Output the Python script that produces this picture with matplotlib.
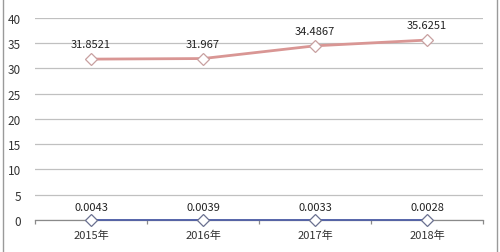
import numpy as np
import matplotlib.pyplot as plt
from matplotlib.lines import Line2D

plt.rcParams['font.family'] = ['Noto Sans CJK SC', 'DejaVu Sans']

years = ["2015年", "2016年", "2017年", "2018年"]
series_a = [31.8521, 31.967, 34.4867, 35.6251]
series_b = [0.0043, 0.0039, 0.0033, 0.0028]
labels_a = ["31.8521", "31.967", "34.4867", "35.6251"]
labels_b = ["0.0043", "0.0039", "0.0033", "0.0028"]
yticks = [0, 5, 10, 15, 20, 25, 30, 35, 40]

fig = plt.figure(figsize=(5.0, 2.53), dpi=100)
ax = fig.add_axes([0.07, 0.1265, 0.896, 0.7985])

x = np.arange(len(years))
grid_c = "#c0c0c0"

ax.set_xlim(-0.5, len(years) - 0.5)
ax.set_ylim(0, 40)
ax.set_yticks(yticks)
ax.yaxis.grid(True, color=grid_c, linewidth=0.9)
ax.set_axisbelow(True)
for s in ["top", "right", "left"]:
    ax.spines[s].set_visible(False)
ax.spines["bottom"].set_color("#8a8a8a")
ax.spines["bottom"].set_linewidth(0.9)
ax.tick_params(axis="y", length=0, pad=10, labelsize=8.5, colors="#333333")

# category boundary ticks on x axis
ax.set_xticks(np.arange(-0.5, len(years)), minor=False)
ax.set_xticklabels([""] * (len(years) + 1))
ax.tick_params(axis="x", length=3, width=0.9, color="#8a8a8a", direction="out")
for xi, lab in zip(x, years):
    ax.annotate(lab, (xi, 0), xytext=(0, -7), textcoords="offset points",
                ha="center", va="top", fontsize=8, color="#333333",
                annotation_clip=False)

ax.plot(x, series_a, color="#d99694", linewidth=2.0, marker="D", markersize=6,
        markerfacecolor="white", markeredgecolor="#c8a0a0", markeredgewidth=0.9,
        clip_on=False, zorder=3)
ax.plot(x, series_b, color="#4f5fa8", linewidth=1.3, marker="D", markersize=6,
        markerfacecolor="white", markeredgecolor="#6a7090", markeredgewidth=0.9,
        clip_on=False, zorder=3)

for xi, v, lab in zip(x, series_a, labels_a):
    ax.annotate(lab, (xi, v), xytext=(0, 7), textcoords="offset points",
                ha="center", va="bottom", fontsize=8, color="#222222",
                annotation_clip=False)
for xi, v, lab in zip(x, series_b, labels_b):
    ax.annotate(lab, (xi, v), xytext=(0, 6), textcoords="offset points",
                ha="center", va="bottom", fontsize=8, color="#222222",
                annotation_clip=False)

# outer chart border (left and right edges visible)
for fx in (0.005, 0.994):
    fig.add_artist(Line2D([fx, fx], [0, 1], transform=fig.transFigure,
                          color="#9a9a9a", linewidth=1.0))

fig.savefig("out.png", dpi=100)
